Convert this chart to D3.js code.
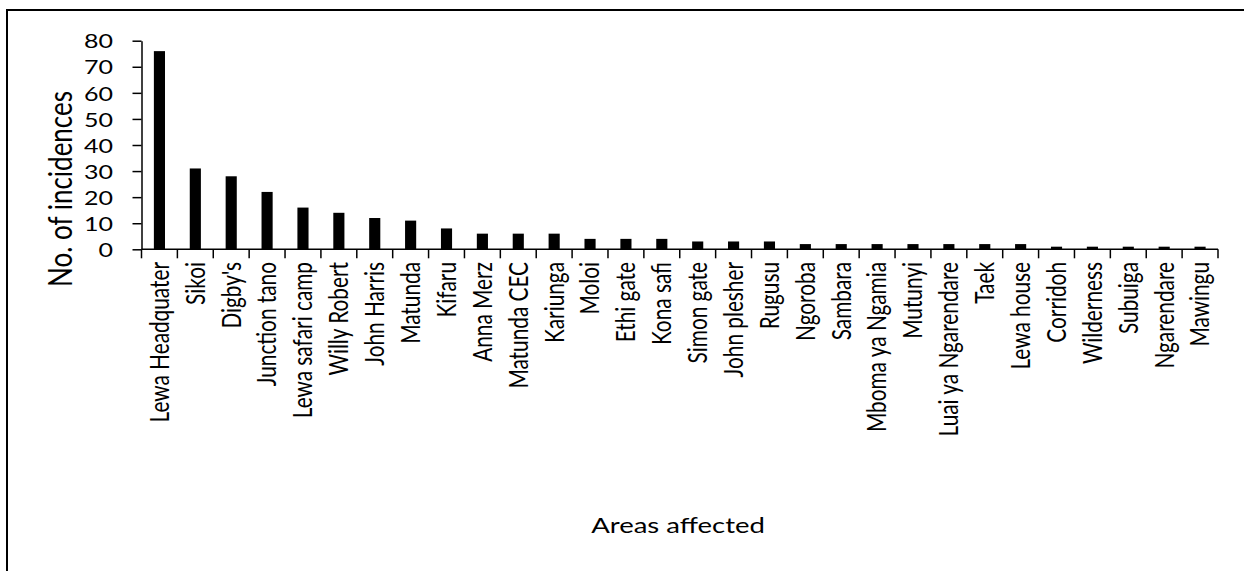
<!DOCTYPE html>
<html><head><meta charset="utf-8">
<script src="https://cdn.jsdelivr.net/npm/d3@7"></script>
<style>body{margin:0;background:#fff}svg{display:block}text{font-family:Lato,"Open Sans",sans-serif;fill:#000}</style>
</head><body>
<script>
const categories = ["Lewa Headquater","Sikoi","Digby's","Junction tano","Lewa safari camp","Willy Robert","John Harris","Matunda","Kifaru","Anna Merz","Matunda CEC","Kariunga","Moloi","Ethi gate","Kona safi","Simon gate","John plesher","Rugusu","Ngoroba","Sambara","Mboma ya Ngamia","Mutunyi","Luai ya Ngarendare","Taek","Lewa house","Corridoh","Wilderness","Subuiga","Ngarendare","Mawingu"];
const incidences = [76,31,28,22,16,14,12,11,8,6,6,6,4,4,4,3,3,3,2,2,2,2,2,2,2,1,1,1,1,1];
const yTicks = [0,10,20,30,40,50,60,70,80];
const yTitle = "No. of incidences";
const xTitle = "Areas affected";

(function () {
const W = 1244, H = 571, SX = 1.25;
const svg = d3.select("body").append("svg").attr("width", W).attr("height", H);
svg.append("rect").attr("x", 7).attr("y", 10).attr("width", W).attr("height", H)
  .attr("fill", "none").attr("stroke", "#000").attr("stroke-width", 2);

const mLeft = 141.5, mRight = 1218, mTop = 40.7, mBottom = 249.3;
const x = d3.scaleBand().domain(categories).range([mLeft, mRight]).paddingInner(0.69).paddingOuter(0.345);
const y = d3.scaleLinear().domain([0, 80]).range([mBottom, mTop]);

svg.append("g").selectAll("rect").data(categories).join("rect")
  .attr("x", d => x(d)).attr("width", x.bandwidth())
  .attr("y", (d, i) => y(incidences[i])).attr("height", (d, i) => y(0) - y(incidences[i]))
  .attr("fill", "#000");

const ya = svg.append("g").attr("transform", `translate(${mLeft},0)`)
  .call(d3.axisLeft(y).tickValues(yTicks).tickSize(9).tickPadding(19).tickSizeOuter(0));
ya.select(".domain").attr("stroke", "#000").attr("stroke-width", 1.5);
ya.selectAll(".tick line").attr("stroke", "#000").attr("stroke-width", 1.5);
ya.selectAll(".tick text").attr("font-size", 20).attr("font-family", "Lato").attr("dy", "0.36em")
  .attr("x", -28.5 / SX).attr("transform", `scale(${SX},1)`);

svg.append("line").attr("x1", mLeft).attr("x2", mRight).attr("y1", mBottom).attr("y2", mBottom)
  .attr("stroke", "#000").attr("stroke-width", 1.5);
const bounds = categories.map(d => x(d) - x.step() * x.paddingInner() / 2).concat([mRight]);
svg.append("g").selectAll("line").data(bounds).join("line")
  .attr("x1", d => d).attr("x2", d => d).attr("y1", mBottom).attr("y2", mBottom + 9)
  .attr("stroke", "#000").attr("stroke-width", 1.5);
svg.append("g").selectAll("text").data(categories).join("text")
  .attr("transform", d => `translate(${x(d) + x.bandwidth() / 2},262) scale(${SX},1) rotate(-90)`)
  .attr("text-anchor", "end").attr("dy", "0.36em")
  .attr("font-size", 20.8).text(d => d);

svg.append("text").attr("transform", `translate(72,189) scale(${SX},1) rotate(-90)`)
  .attr("text-anchor", "middle").attr("font-size", 26).text(yTitle);
svg.append("text").attr("transform", `translate(678,533) scale(${SX},1)`).attr("text-anchor", "middle")
  .attr("font-size", 22).text(xTitle);
})();
</script>
</body></html>
